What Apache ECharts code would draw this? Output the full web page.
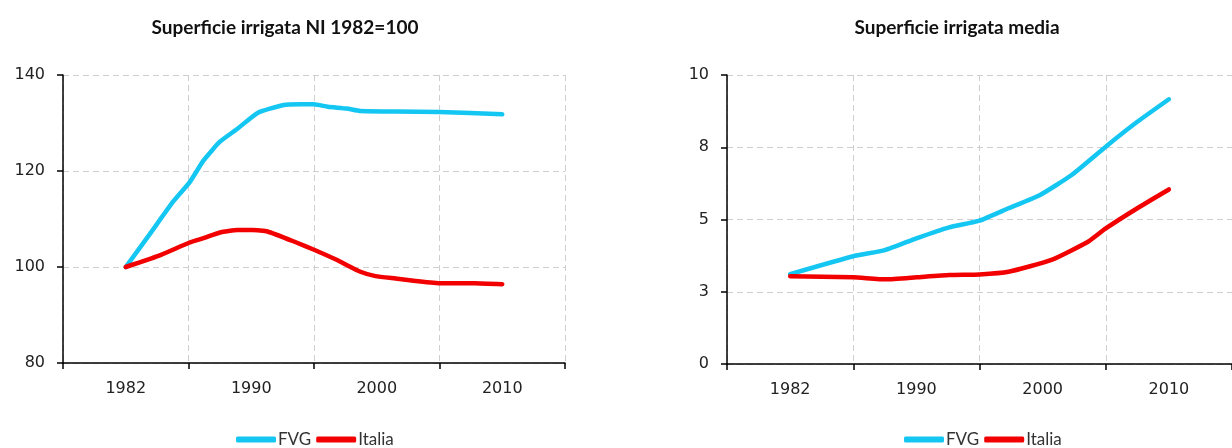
<!DOCTYPE html>
<html>
<head>
<meta charset="utf-8">
<script src="https://cdn.jsdelivr.net/npm/echarts@6/dist/echarts.min.js"></script>
<style>
  html, body { margin: 0; padding: 0; background: #ffffff; }
  #chart { width: 1232px; height: 448px; }
</style>
</head>
<body>
<div id="chart"></div>
<script>
// Census years shown as category labels (x positions: 0 = 1982, 1 = 1990, 2 = 2000, 3 = 2010)
const categories = ['1982', '1990', '2000', '2010'];
const seriesNames = ['FVG', 'Italia'];

// Left panel: Superficie irrigata, index 1982 = 100
const leftFvgPos = [0, 0.19, 0.38, 0.51, 0.62, 0.75, 0.89, 1.05, 1.25, 1.39, 1.5, 1.61, 1.76, 1.87, 2.15, 2.5, 3.0];
const leftFvgVal = [100, 106.8, 113.7, 117.7, 122.2, 126.1, 128.8, 132.1, 133.7, 133.9, 133.9, 133.4, 133.0, 132.5, 132.4, 132.3, 131.8];
const leftItaPos = [0, 0.26, 0.51, 0.62, 0.75, 0.89, 1.01, 1.13, 1.36, 1.5, 1.68, 1.87, 1.99, 2.15, 2.31, 2.51, 2.78, 3.0];
const leftItaVal = [100, 102.3, 105.1, 106.0, 107.2, 107.7, 107.7, 107.4, 105.1, 103.6, 101.5, 99.0, 98.1, 97.6, 97.1, 96.6, 96.6, 96.4];

// Right panel: Superficie irrigata media
const rightFvgPos = [0, 0.5, 0.75, 1.0, 1.26, 1.5, 1.73, 1.98, 2.23, 2.5, 2.75, 3.0];
const rightFvgVal = [3.11, 3.73, 3.94, 4.35, 4.73, 4.96, 5.39, 5.85, 6.54, 7.52, 8.38, 9.16];
const rightItaPos = [0, 0.5, 0.76, 1.0, 1.26, 1.5, 1.73, 2.07, 2.36, 2.5, 2.75, 3.0];
const rightItaVal = [3.04, 3.0, 2.93, 3.0, 3.08, 3.1, 3.19, 3.6, 4.23, 4.69, 5.39, 6.04];

const leftTicks = [80, 100, 120, 140];
const rightTicks = [0, 2.5, 5, 7.5, 10];

const titles = ['Superficie irrigata NI 1982=100', 'Superficie irrigata media'];

const colFvg = '#14C6F2';
const colIta = '#F20000';

function pairs(xs, ys) { return xs.map((x, i) => [x, ys[i]]); }

const labelFont = 'DejaVu Sans';
const axisBlack = { color: '#000', width: 1.5 };
const dashed = { color: '#cfcfcf', width: 1, type: [6, 4] };

function catAxis(gi) {
  return {
    type: 'category', gridIndex: gi, data: categories, boundaryGap: true, position: 'bottom',
    axisLine: { show: true, onZero: false, lineStyle: axisBlack },
    axisTick: { show: true, length: 6, lineStyle: axisBlack },
    axisLabel: { fontFamily: labelFont, fontSize: 16, color: '#222', margin: 18 },
    splitLine: { show: true, lineStyle: dashed }
  };
}
function posAxis(gi) {
  return { type: 'value', gridIndex: gi, min: -0.5, max: 3.5, show: false, splitLine: { show: false } };
}
function valAxis(gi, ticks, fmt) {
  return {
    type: 'value', gridIndex: gi, min: ticks[0], max: ticks[ticks.length - 1],
    interval: ticks[1] - ticks[0], position: 'left',
    axisLine: { show: true, onZero: false, lineStyle: axisBlack },
    axisTick: { show: true, length: 6, lineStyle: axisBlack },
    axisLabel: { fontFamily: labelFont, fontSize: 16, color: '#222', margin: 18, formatter: fmt },
    splitLine: { show: true, lineStyle: dashed }
  };
}
function line(name, color, xi, yi, data) {
  return {
    type: 'line', name: name, xAxisIndex: xi, yAxisIndex: yi, data: data,
    showSymbol: false, smooth: 0.15, color: color,
    lineStyle: { width: 4.5, color: color, cap: 'round', join: 'round' },
    emphasis: { disabled: true }
  };
}
function legend(left) {
  return {
    left: left, top: 426, data: seriesNames, icon: 'roundRect',
    itemWidth: 40, itemHeight: 6, itemGap: 5,
    textStyle: { fontFamily: 'Lato', fontSize: 17, color: '#333', padding: [0, 0, 0, -3] }
  };
}

const chart = echarts.init(document.getElementById('chart'), null, { renderer: 'canvas' });
chart.setOption({
  animation: false,
  backgroundColor: '#ffffff',
  graphic: [
    { type: 'text', x: 285, y: 28, style: { text: titles[0], align: 'center', verticalAlign: 'middle', font: 'bold 19px Lato', fill: '#111' } },
    { type: 'text', x: 957, y: 28, style: { text: titles[1], align: 'center', verticalAlign: 'middle', font: 'bold 19px Lato', fill: '#111' } }
  ],
  legend: [legend(231), legend(899)],
  grid: [
    { left: 63, top: 75, width: 502, height: 288 },
    { left: 727, top: 75, width: 512, height: 289 }
  ],
  xAxis: [catAxis(0), posAxis(0), catAxis(1), posAxis(1)],
  yAxis: [
    valAxis(0, leftTicks, v => String(v)),
    valAxis(1, rightTicks, v => String(Math.round(v)))
  ],
  series: [
    line('FVG', colFvg, 1, 0, pairs(leftFvgPos, leftFvgVal)),
    line('Italia', colIta, 1, 0, pairs(leftItaPos, leftItaVal)),
    line('FVG', colFvg, 3, 1, pairs(rightFvgPos, rightFvgVal)),
    line('Italia', colIta, 3, 1, pairs(rightItaPos, rightItaVal))
  ]
});
</script>
</body>
</html>
